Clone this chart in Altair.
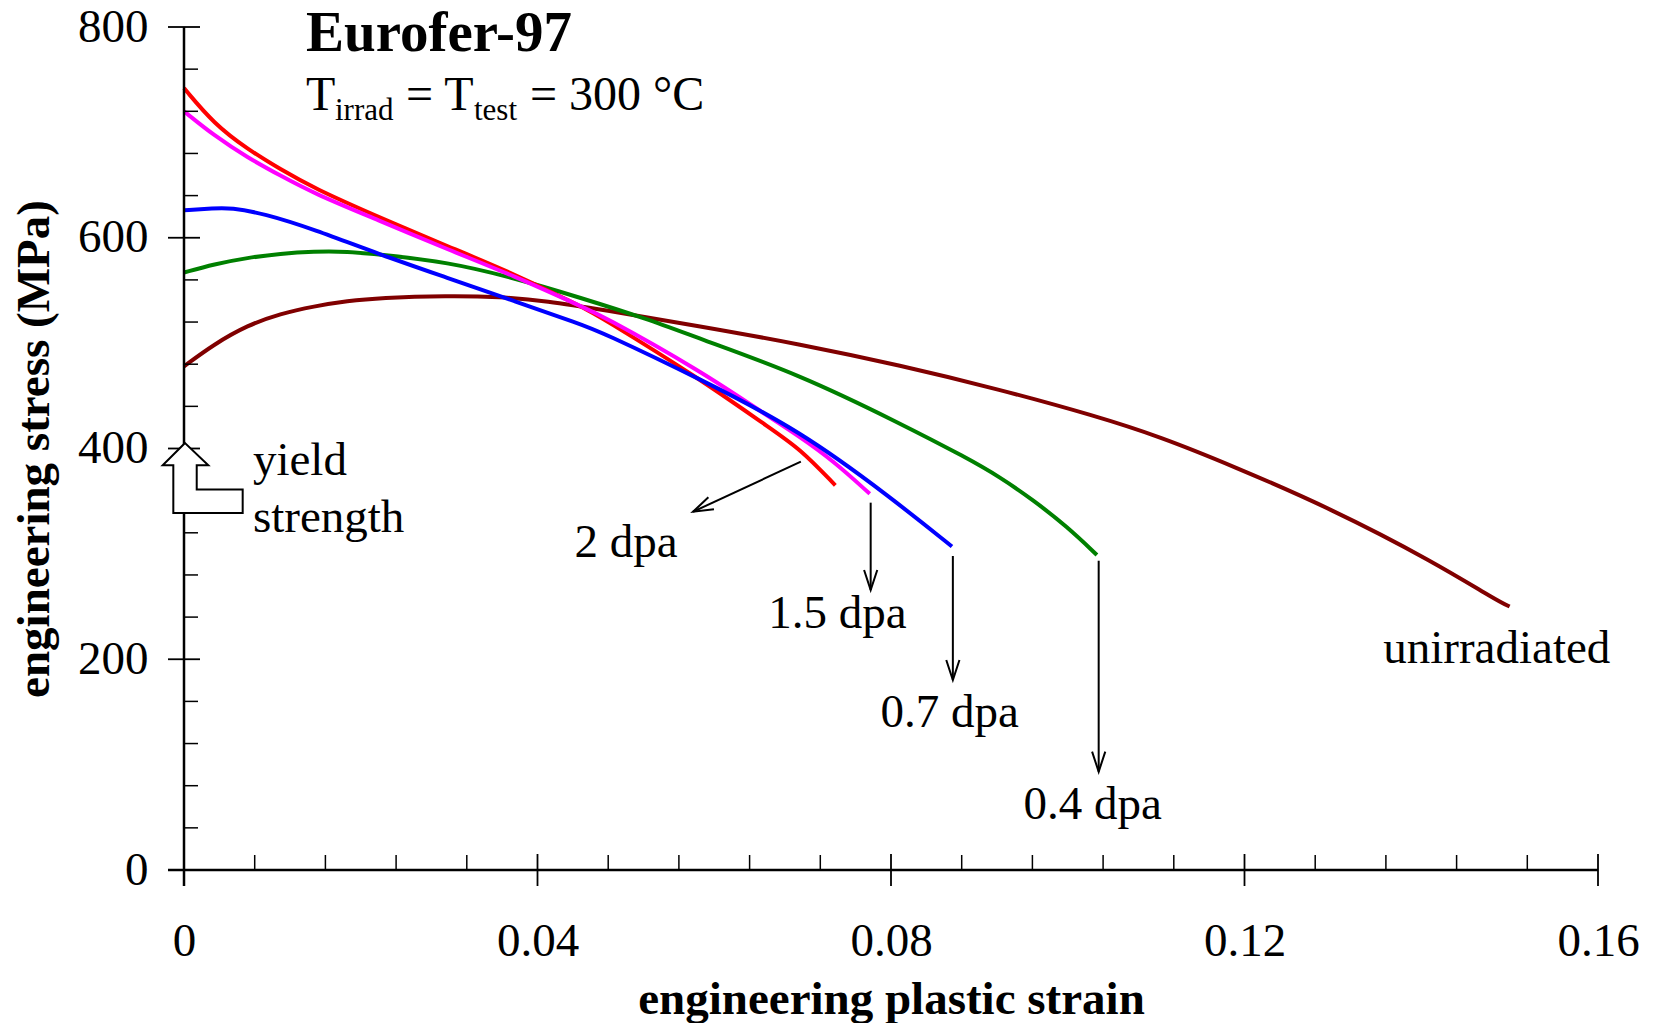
import altair as alt
import pandas as pd

W, H = 1414, 843
FONT = "Liberation Serif"

# ---------------- data ----------------
series_names = ["unirradiated", "0.4 dpa", "2 dpa", "1.5 dpa", "0.7 dpa"]
series_colors = ["#800000", "#008000", "#FF0000", "#FF00FF", "#0000FF"]

unirr_strain = [0.0, 0.0034, 0.0072, 0.0109, 0.0147, 0.0185, 0.0222, 0.0298, 0.0358, 0.0411,
                0.0471, 0.0584, 0.0697, 0.0810, 0.0923, 0.1031, 0.1105, 0.1185, 0.1298,
                0.1415, 0.1485, 0.1500]
unirr_stress = [478, 499, 517, 528, 535, 540, 543, 545, 544, 540,
                532, 516, 499, 479, 456, 431, 411, 384, 343,
                292, 256, 250]

d04_strain = [0.0, 0.0034, 0.0072, 0.0109, 0.0147, 0.0185, 0.0222, 0.0298, 0.0373, 0.0449,
              0.0524, 0.0584, 0.0697, 0.0810, 0.0886, 0.0923, 0.0961, 0.0999, 0.1033]
d04_stress = [567, 575, 581, 585, 587, 587, 584, 577, 562, 543,
              523, 504, 470, 424, 391, 373, 351, 326, 299]

d2_strain = [0.0, 0.0034, 0.0072, 0.0109, 0.0147, 0.0222, 0.0298, 0.0373, 0.0449, 0.0471,
             0.0584, 0.0660, 0.0697, 0.0737]
d2_stress = [742, 708, 684, 665, 647, 619, 592, 566, 535, 525,
             466, 421, 400, 365]

d15_strain = [0.0, 0.0034, 0.0072, 0.0109, 0.0147, 0.0222, 0.0298, 0.0373, 0.0449, 0.0471,
              0.0584, 0.0660, 0.0697, 0.0735, 0.0776]
d15_stress = [720, 697, 676, 659, 642, 616, 589, 564, 535, 527,
              474, 431, 411, 388, 357]

d07_strain = [0.0, 0.0034, 0.0053, 0.0090, 0.0147, 0.0222, 0.0298, 0.0373, 0.0449, 0.0471,
              0.0584, 0.0697, 0.0799, 0.0869]
d07_stress = [626, 628, 628.5, 623, 608, 584, 562, 540, 518, 511,
              466, 417, 354, 307]

x_major = [0, 0.04, 0.08, 0.12, 0.16]
x_minor = [0.008, 0.016, 0.024, 0.032, 0.048, 0.056, 0.064, 0.072, 0.088, 0.096,
           0.104, 0.112, 0.128, 0.136, 0.144, 0.152]
y_major = [0, 200, 400, 600, 800]
y_minor = [40, 80, 120, 160, 240, 280, 320, 360, 440, 480, 520, 560, 640, 680, 720, 760]

# curve labels (data anchor = left end of text baseline)
label_text = ["2 dpa", "1.5 dpa", "0.7 dpa", "0.4 dpa", "unirradiated", "yield", "strength"]
label_strain = [0.0442, 0.0661, 0.0788, 0.0950, 0.1357, 0.0078, 0.0078]
label_stress = [296.7, 229.7, 135.4, 48.1, 196.2, 374.9, 321.0]

# arrows: start -> tip
arrow_strain = [0.0698, 0.0777, 0.0870, 0.1035]
arrow_stress = [387.5, 348.6, 298.0, 293.5]
arrow_strain2 = [0.0576, 0.0777, 0.0870, 0.1035]
arrow_stress2 = [340.0, 265.7, 180.3, 93.3]
arrow_angle = [65, 0, 0, 0]

# yield strength marker position
yield_strain = [0.0]
yield_stress = [372.0]

# ---------------- build tables ----------------
rows = []
for name, xs, ys in [("unirradiated", unirr_strain, unirr_stress),
                     ("0.4 dpa", d04_strain, d04_stress),
                     ("2 dpa", d2_strain, d2_stress),
                     ("1.5 dpa", d15_strain, d15_stress),
                     ("0.7 dpa", d07_strain, d07_stress)]:
    for i, (a, b) in enumerate(zip(xs, ys)):
        rows.append({"series": name, "strain": a, "stress": b, "i": i})
curves_df = pd.DataFrame(rows)

xscale = alt.Scale(domain=[0, 0.16], nice=False, zero=False)
yscale = alt.Scale(domain=[0, 800], nice=False, zero=False)

x_axis = alt.Axis(values=x_major, format=".2~f", domain=False, ticks=False, tickSize=0,
                  grid=False, labelFont=FONT, labelFontSize=47, labelColor="black",
                  labelFlush=False, labelBaseline="alphabetic", labelPadding=85,
                  title="engineering plastic strain", titleFont=FONT, titleFontSize=47,
                  titleFontWeight="bold", titleColor="black", titleX=W / 2, titleY=143,
                  titleBaseline="alphabetic")
y_axis = alt.Axis(values=y_major, domain=False, ticks=False, tickSize=0, grid=False,
                  labelFont=FONT, labelFontSize=47, labelColor="black", labelPadding=36,
                  title="engineering stress (MPa)", titleFont=FONT, titleFontSize=47,
                  titleFontWeight="bold", titleColor="black", titleX=-136, titleY=H / 2,
                  titleBaseline="alphabetic")


def X(field="strain"):
    return alt.X(f"{field}:Q", scale=xscale, axis=x_axis)


def Y(field="stress"):
    return alt.Y(f"{field}:Q", scale=yscale, axis=y_axis)


curves = alt.Chart(curves_df).mark_line(strokeWidth=4, interpolate="basis").encode(
    x=X(), y=Y(),
    color=alt.Color("series:N", scale=alt.Scale(domain=series_names, range=series_colors),
                    legend=None),
    detail="series:N",
    order="i:Q",
)

# axis lines
xline = alt.Chart(pd.DataFrame({"a": [0]})).mark_rule(color="black", strokeWidth=2.5).encode(
    x=alt.value(-16), x2=alt.value(W), y=alt.value(H))
yline = alt.Chart(pd.DataFrame({"a": [0]})).mark_rule(color="black", strokeWidth=2.5).encode(
    x=alt.value(0), y=alt.value(0), y2=alt.value(H + 16))

# ticks
xmaj = alt.Chart(pd.DataFrame({"strain": x_major})).mark_rule(color="black", strokeWidth=1.8).encode(
    x=X(), y=alt.value(H - 16), y2=alt.value(H + 16))
xmin = alt.Chart(pd.DataFrame({"strain": x_minor})).mark_rule(color="black", strokeWidth=1.5).encode(
    x=X(), y=alt.value(H - 15), y2=alt.value(H))
ymaj = alt.Chart(pd.DataFrame({"stress": y_major})).mark_rule(color="black", strokeWidth=1.8).encode(
    y=Y(), x=alt.value(-16), x2=alt.value(16))
ymin = alt.Chart(pd.DataFrame({"stress": y_minor})).mark_rule(color="black", strokeWidth=1.5).encode(
    y=Y(), x=alt.value(0), x2=alt.value(14))

# arrows
shaft_df = pd.DataFrame({"strain": arrow_strain, "stress": arrow_stress,
                         "strain2": arrow_strain2, "stress2": arrow_stress2})
head_df = pd.DataFrame({"strain": arrow_strain2, "stress": arrow_stress2, "angle": arrow_angle})
shafts = alt.Chart(shaft_df).mark_rule(color="black", strokeWidth=2).encode(
    x=X(), y=Y(), x2="strain2:Q", y2="stress2:Q")
heads = alt.Chart(head_df).mark_point(
    shape="M -0.33 -1 L 0 0 L 0.33 -1", size=1600, filled=False, color="black",
    strokeWidth=2, opacity=1).encode(
    x=X(), y=Y(), angle=alt.Angle("angle:Q", scale=None))

# yield strength hollow arrow
yield_mark = alt.Chart(pd.DataFrame({"strain": yield_strain, "stress": yield_stress})).mark_point(
    shape=("M 0.017 -0.583 L -0.355 -0.212 L -0.178 -0.212 L -0.178 0.583 L 0.978 0.583 "
           "L 0.978 0.193 L 0.212 0.193 L 0.212 -0.212 L 0.405 -0.212 Z"),
    size=14400, filled=True, fill="white", stroke="black", strokeWidth=2, opacity=1).encode(
    x=X(), y=Y())

labels = alt.Chart(pd.DataFrame({"t": label_text, "strain": label_strain, "stress": label_stress})).mark_text(
    font=FONT, fontSize=47, color="black", align="left", baseline="alphabetic").encode(
    x=X(), y=Y(), text="t:N")


# title block
def txt(s, x, y, size, weight="normal"):
    return alt.Chart(pd.DataFrame({"t": [s]})).mark_text(
        font=FONT, fontSize=size, fontWeight=weight, color="black",
        align="left", baseline="alphabetic").encode(
        text="t:N", x=alt.value(x), y=alt.value(y))


title_layers = [
    txt("Eurofer-97", 122, 24, 57, "bold"),
    txt("T", 122, 83, 48),
    txt("irrad", 151, 93, 31),
    txt("= T", 222, 83, 48),
    txt("test", 290, 93, 31),
    txt("= 300 °C", 346, 83, 48),
]

chart = alt.layer(
    curves, xline, yline, xmaj, xmin, ymaj, ymin, shafts, heads, yield_mark, labels, *title_layers
).properties(
    width=W, height=H,
    padding={"left": 184, "top": 27, "right": 57, "bottom": 153},
    autosize=alt.AutoSizeParams(type="none"),
    background="white",
).configure_view(stroke=None)

chart.save("out.html", embed_options={"renderer": "svg", "actions": False})
